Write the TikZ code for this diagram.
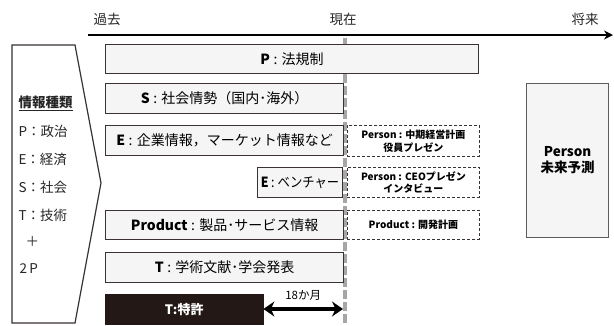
\documentclass[tikz,border=0pt]{standalone}
\usepackage{fontspec}
\setmainfont{Noto Sans CJK JP}
\usetikzlibrary{arrows.meta}
\definecolor{boxfill}{HTML}{F5F5F5}
\definecolor{boxline}{HTML}{3A3232}
\definecolor{darkbox}{HTML}{231815}
\newcommand{\cln}{\hspace{0.25em}:\hspace{0.3em}}
\begin{document}
\begin{tikzpicture}[x=1pt,y=-1pt,
  infobox/.style={draw=boxline,line width=1.2pt,fill=boxfill,inner sep=0pt,font=\fontsize{14}{16}\selectfont,text=black},
  dashbox/.style={draw=boxline,line width=0.9pt,dash pattern=on 3pt off 2pt,fill=white,inner sep=0pt,align=center,font=\fontsize{10}{12.5}\selectfont\bfseries,text=black},
  axislabel/.style={font=\fontsize{13.5}{15}\selectfont,text=black!85},
  sidelabel/.style={anchor=west,font=\fontsize{13.5}{15}\selectfont,text=black!85}]
\useasboundingbox (0,0) rectangle (614,325);
% time axis
\coordinate (axL) at (88,35);
\coordinate (axR) at (613,35);
\draw[line width=2.8pt,-{Stealth[length=9pt,width=9pt]}] (axL) -- (axR);
\node[axislabel] (past) at (107,19) {過去};
\node[axislabel] (now) at (343,19) {現在};
\node[axislabel] (future) at (585,19) {将来};
% now line
\coordinate (nowTop) at (345,38);
\coordinate (nowBot) at (345,325);
\draw[gray!70,line width=3.5pt,dash pattern=on 9pt off 3pt] (nowTop) -- (nowBot);
% left pentagon
\draw[boxline,line width=1.2pt,fill=white] (12,45) -- (75,45) -- (101,183) -- (75,323) -- (12,323) -- cycle;
\node[sidelabel] (kind) at (15,103) {\textbf{\underline{情報種類}}};
\node[sidelabel] (lp) at (15,131) {P：政治};
\node[sidelabel] (le) at (15,159) {E：経済};
\node[sidelabel] (ls) at (15,187) {S：社会};
\node[sidelabel] (lt) at (15,215) {T：技術};
\node[sidelabel] (lplus) at (22,242) {＋};
\node[sidelabel] (l2p) at (16,269) {2\,P};
% boxes
\node[infobox,minimum width=373pt,minimum height=29pt,anchor=north west] (P) at (105,44) {\textbf{P}\cln 法規制};
\node[infobox,minimum width=238pt,minimum height=30pt,anchor=north west] (S) at (105,83) {\textbf{S}\cln 社会情勢（国内･海外）};
\node[infobox,minimum width=238pt,minimum height=30pt,anchor=north west] (E) at (105,125) {\textbf{E}\cln 企業情報，マーケット情報など};
\node[infobox,minimum width=85pt,minimum height=30pt,anchor=north west] (EV) at (257,167) {\scalebox{0.88}[1]{\textbf{E}\hspace{0.2em}:\hspace{0.25em}ベンチャー}};
\node[infobox,minimum width=238pt,minimum height=29pt,anchor=north west] (PR) at (105,210) {\textbf{Product}\cln 製品･サービス情報};
\node[infobox,minimum width=238pt,minimum height=30pt,anchor=north west] (T) at (105,252) {\textbf{T}\cln 学術文献･学会発表};
\node[draw=darkbox,fill=darkbox,text=white,minimum width=158pt,minimum height=30pt,anchor=north west,inner sep=0pt,font=\fontsize{13}{15}\selectfont\bfseries] (TP) at (105,294) {T:特許};
% dashed boxes
\node[dashbox,minimum width=132pt,minimum height=31pt,anchor=north west] (D1) at (347,125) {Person : 中期経営計画\\役員プレゼン};
\node[dashbox,minimum width=132pt,minimum height=30pt,anchor=north west] (D2) at (347,167) {Person : CEOプレゼン\\インタビュー};
\node[dashbox,minimum width=132pt,minimum height=29pt,anchor=north west] (D3) at (347,210) {Product : 開発計画};
% future box
\node[draw=boxline!80,line width=1.2pt,fill=boxfill,minimum width=82pt,minimum height=154pt,anchor=north west,inner sep=0pt,align=center,font=\fontsize{13.5}{16}\selectfont\bfseries] (F) at (526,83) {Person\\未来予測};
% 18 months arrow
\coordinate (nowT) at (343,309);
\draw[line width=3.5pt,{Stealth[length=11pt,width=15pt]}-{Stealth[length=11pt,width=15pt]}] (TP.east |- nowT) -- (nowT) node[midway,above=3pt,font=\fontsize{11.5}{13}\selectfont,text=black] (m18) {18か月};
\end{tikzpicture}
\end{document}
